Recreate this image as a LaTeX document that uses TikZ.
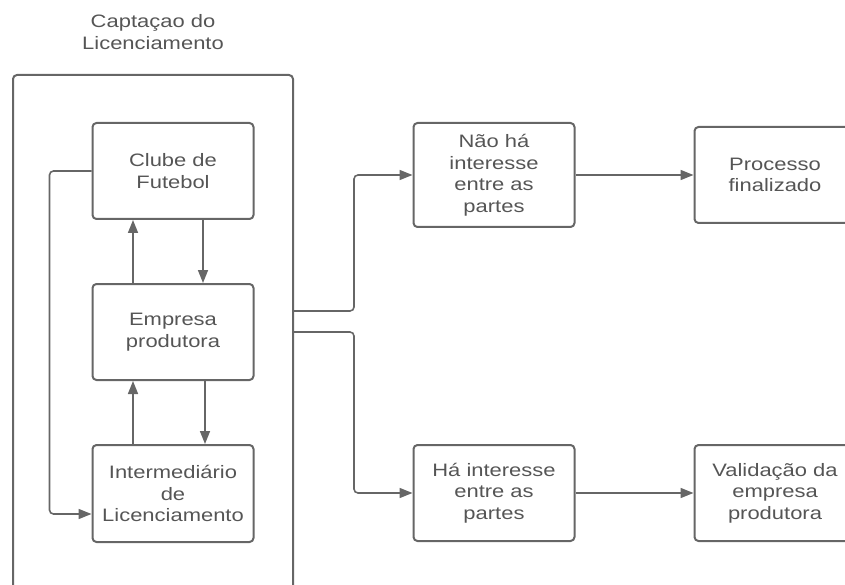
\documentclass[tikz,border=0pt]{standalone}
\usepackage{fontspec}
\setmainfont{Liberation Sans}[FakeStretch=1.22]
\usetikzlibrary{arrows.meta}
\definecolor{linegray}{HTML}{666666}
\definecolor{textgray}{HTML}{555555}
\tikzset{
  box/.style={draw=linegray, line width=2pt, rounded corners=4pt,
    minimum width=161pt, align=center, text=textgray,
    font=\fontsize{18}{21.5}\selectfont, inner sep=0pt},
  link/.style={draw=linegray, line width=1.6pt, rounded corners=4pt,
    -{Triangle[length=13pt,width=10pt]}},
}
\begin{document}
\begin{tikzpicture}[x=1pt,y=-1pt]
\useasboundingbox (0,0) rectangle (845,585);
\clip (0,0) rectangle (845,585);

% group frame and its title
\node[text=textgray, align=center, font=\fontsize{18}{21.5}\selectfont] (title) at (153,32) {Captaçao do\\Licenciamento};
\node[draw=linegray, line width=2pt, rounded corners=4pt, minimum width=280pt, minimum height=525pt, inner sep=0pt] (capt) at (153,337.5) {};

% actors inside the frame
\node[box, minimum height=96pt] (clube) at (173,171) {Clube de\\Futebol};
\node[box, minimum height=96pt] (emp) at (173,332) {Empresa\\produtora};
\node[box, minimum height=97pt] (inter) at (173,493.5) {Intermediário\\de\\Licenciamento};

% outcomes
\node[box, minimum height=104pt] (nao) at (494,175) {Não há\\interesse\\entre as\\partes};
\node[box, minimum height=96pt] (proc) at (775,175) {Processo\\finalizado};
\node[box, minimum height=96pt] (ha) at (494,493) {Há interesse\\entre as\\partes};
\node[box, minimum height=96pt] (valid) at (775,493) {Validação da\\empresa\\produtora};

% exchanges between the actors
\draw[link] ([xshift=-40pt]emp.north) -- ([xshift=-40pt]clube.south);
\draw[link] ([xshift=30pt]clube.south) -- ([xshift=30pt]emp.north);
\draw[link] ([xshift=-40pt]inter.north) -- ([xshift=-40pt]emp.south);
\draw[link] ([xshift=32pt]emp.south) -- ([xshift=32pt]inter.north);
\draw[link] (clube.west) -- ++(-42,0) |- ([yshift=-20.5pt]inter.west);

% branches leaving the frame
\coordinate (out1) at (capt.east |- 0,311);
\coordinate (out2) at (capt.east |- 0,332);
\draw[link] (out1) -- ++(60,0) |- (nao.west);
\draw[link] (out2) -- ++(60,0) |- (ha.west);
\draw[link] (nao.east) -- (proc.west);
\draw[link] (ha.east) -- (valid.west);
\end{tikzpicture}
\end{document}
